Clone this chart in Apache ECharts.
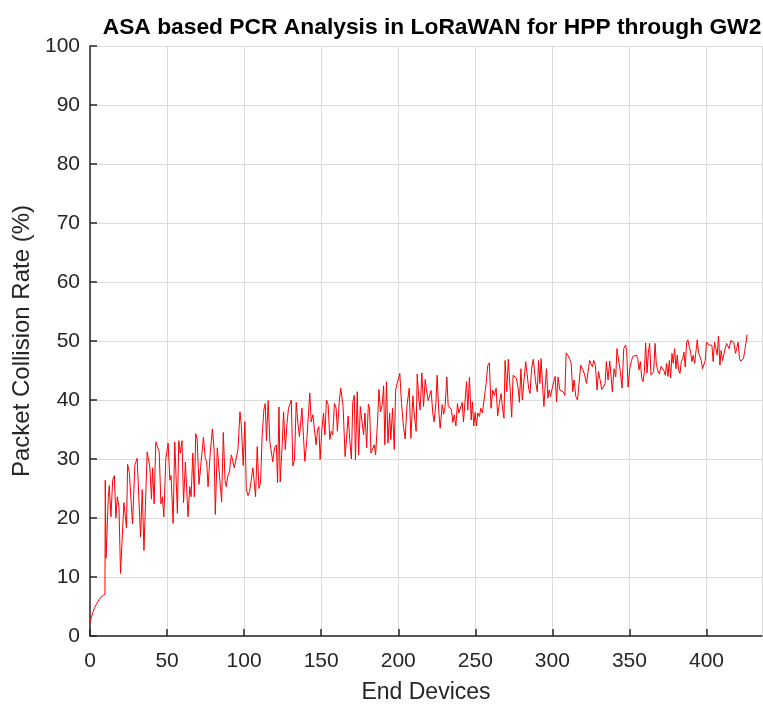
<!DOCTYPE html>
<html style="height: 100%">
<head>
    <meta charset="utf-8">
    <script src="https://cdn.jsdelivr.net/npm/echarts@6/dist/echarts.min.js"></script>
    <title>ASA based PCR Analysis</title>
</head>
<body style="height: 100%; margin: 0; background: #fff">
<div id="container" style="width: 763px; height: 706px"></div>

<script type="text/javascript">
    var devices = [0, 1, 2, 3, 4, 5, 6, 7, 8, 9.7, 9.9, 10.4, 11.9, 12.5, 13.6, 14.7, 15.8, 16.8, 17.7, 18.8,
        19.8, 22.0, 23.7, 24.4, 25.5, 26.5, 27.6, 29.1, 30.6, 32.8, 33.9, 35.0, 37.1, 38.8, 39.9, 40.6, 41.6, 42.7, 43.8, 44.9,
        46.0, 47.0, 47.9, 49.2, 50.7, 51.8, 52.6, 53.9, 55.0, 56.7, 57.6, 58.6, 59.7, 60.7, 61.9, 62.8, 63.6, 64.7, 65.6, 66.7,
        67.7, 68.6, 69.5, 70.7, 71.8, 73.6, 74.8, 75.7, 76.6, 77.9, 79.4, 80.5, 81.3, 82.6, 83.7, 84.6, 85.4, 86.5, 87.6, 88.4,
        89.5, 90.4, 91.7, 92.8, 93.6, 94.7, 96.0, 97.3, 98.2, 99.4, 100.5, 101.4, 102.5, 103.5, 104.6, 105.7, 106.6, 107.4, 108.5, 109.6,
        110.7, 111.7, 112.8, 113.7, 114.5, 115.6, 116.7, 117.8, 118.6, 119.7, 120.9, 121.7, 122.6, 123.4, 124.7, 125.6, 126.7, 127.8, 128.8, 130.6,
        131.6, 132.7, 133.8, 134.9, 135.9, 137.5, 138.5, 139.4, 140.7, 141.6, 142.6, 143.5, 144.6, 145.7, 146.7, 147.6, 148.5, 149.3, 150.4, 151.5,
        152.4, 153.4, 154.5, 155.6, 156.5, 157.5, 158.6, 159.7, 160.5, 161.8, 162.7, 164.2, 165.5, 166.4, 167.5, 168.5, 169.6, 170.5, 171.5, 172.2,
        173.4, 174.3, 175.4, 176.5, 177.5, 178.4, 179.5, 180.6, 181.4, 182.3, 183.4, 184.4, 185.3, 186.6, 187.5, 188.5, 189.6, 190.5, 191.3, 192.4,
        193.3, 194.4, 195.2, 196.3, 197.4, 198.3, 199.5, 201.0, 202.1, 203.4, 204.5, 205.6, 207.1, 208.2, 209.5, 210.3, 211.6, 212.3, 213.4, 214.2,
        215.3, 216.4, 217.5, 218.3, 219.4, 220.3, 221.3, 222.4, 223.3, 224.4, 225.2, 226.3, 227.2, 228.5, 229.5, 230.4, 231.5, 232.4, 233.5, 234.5,
        235.4, 236.3, 237.4, 238.4, 239.3, 240.4, 241.5, 242.3, 243.4, 244.3, 245.1, 246.2, 247.3, 248.1, 249.0, 249.9, 250.7, 251.6, 252.7, 253.5,
        254.6, 255.7, 257.0, 258.1, 259.1, 260.2, 261.3, 262.4, 263.5, 264.5, 265.6, 266.7, 267.8, 268.6, 269.3, 270.4, 271.4, 272.5, 273.6, 274.5,
        275.5, 276.6, 277.7, 278.6, 279.6, 280.5, 281.6, 282.7, 283.5, 284.6, 285.5, 286.5, 287.6, 289.1, 290.2, 291.0, 291.9, 292.7, 293.6, 294.5,
        295.3, 296.2, 297.1, 297.9, 298.8, 299.9, 300.9, 301.8, 302.7, 303.7, 304.8, 305.9, 307.0, 308.1, 308.9, 310.0, 311.3, 312.2, 313.2, 314.1,
        315.2, 316.3, 317.3, 318.4, 319.5, 320.8, 322.1, 323.2, 324.2, 325.1, 326.0, 326.8, 327.9, 329.0, 329.9, 330.9, 332.0, 333.1, 334.2, 335.0,
        336.1, 337.2, 338.1, 338.9, 340.0, 341.1, 341.9, 343.0, 344.1, 345.2, 346.3, 347.4, 348.2, 349.1, 350.2, 351.3, 352.3, 353.4, 354.5, 355.4,
        356.2, 357.1, 358.0, 358.8, 359.7, 360.5, 361.4, 362.3, 363.1, 364.0, 364.9, 365.7, 366.6, 367.4, 368.3, 369.4, 370.5, 371.3, 372.2, 373.3,
        374.1, 375.0, 375.9, 376.7, 377.6, 378.4, 379.3, 380.2, 381.0, 381.9, 382.8, 383.6, 384.5, 385.4, 386.2, 387.1, 387.9, 388.8, 389.7, 390.5,
        391.4, 392.3, 393.1, 394.0, 394.8, 395.7, 396.6, 397.4, 398.3, 399.2, 400.0, 400.9, 401.7, 402.6, 403.5, 404.3, 405.2, 406.1, 406.9, 407.8,
        408.7, 409.5, 410.4, 411.2, 412.1, 413.0, 413.8, 414.7, 415.8, 416.8, 417.7, 418.8, 419.6, 420.5, 421.4, 422.2, 423.1, 424.0, 424.8, 425.7,
        426.3];

    var pcr = [2.2, 3.3, 4.1, 4.8, 5.3, 5.8, 6.2, 6.5, 6.8, 7.1, 26.4, 13.2, 23.6, 25.5, 20.2, 26.4, 27.2, 20.0, 23.6, 21.9,
        10.6, 22.6, 18.3, 29.1, 27.7, 28.0, 19.0, 29.0, 30.1, 16.8, 24.8, 14.5, 31.2, 28.7, 23.2, 28.5, 22.4, 32.9, 33.1, 31.2,
        22.4, 23.6, 20.2, 30.1, 32.7, 26.4, 27.2, 19.1, 32.9, 20.8, 33.1, 31.0, 33.1, 22.6, 29.5, 29.5, 20.2, 25.3, 23.6, 31.0,
        23.6, 34.3, 33.4, 25.7, 28.7, 33.7, 30.1, 29.5, 25.3, 30.7, 35.1, 31.6, 20.6, 31.9, 28.2, 28.2, 22.7, 34.5, 26.4, 25.3,
        27.2, 27.8, 30.7, 31.0, 28.5, 28.7, 31.6, 38.0, 35.7, 28.9, 36.3, 24.8, 23.8, 24.5, 26.4, 28.5, 28.2, 23.6, 32.1, 25.0,
        26.1, 34.0, 38.3, 39.4, 33.1, 39.9, 32.9, 32.7, 29.5, 31.9, 32.4, 26.0, 38.8, 26.1, 32.4, 38.0, 31.6, 36.0, 38.6, 40.0,
        28.8, 29.9, 39.6, 36.0, 33.8, 38.6, 33.8, 29.6, 33.3, 33.5, 41.2, 36.3, 37.5, 37.8, 32.4, 34.9, 35.5, 29.9, 34.9, 37.8,
        34.1, 40.0, 39.2, 33.3, 34.7, 34.1, 39.4, 38.6, 34.7, 40.0, 42.0, 38.9, 30.4, 33.3, 37.3, 33.3, 30.0, 39.7, 40.8, 29.9,
        41.4, 30.7, 38.9, 36.3, 34.1, 37.8, 31.9, 39.3, 38.6, 31.0, 31.3, 32.4, 30.7, 36.6, 41.8, 38.0, 39.2, 42.4, 32.4, 43.1,
        32.7, 37.8, 33.3, 38.6, 31.6, 41.7, 43.1, 44.5, 39.4, 35.5, 33.4, 38.9, 42.0, 33.5, 40.7, 37.8, 34.7, 44.4, 40.0, 38.3,
        44.6, 38.9, 43.5, 41.7, 39.9, 40.0, 41.6, 37.8, 36.3, 39.4, 44.2, 38.0, 35.2, 39.2, 37.6, 38.9, 43.9, 39.0, 38.8, 38.4,
        36.2, 37.5, 35.6, 39.4, 37.8, 38.0, 39.6, 36.3, 40.0, 43.1, 38.3, 43.9, 36.6, 39.7, 35.6, 37.9, 35.6, 37.8, 37.2, 38.6,
        37.8, 37.5, 42.8, 45.9, 46.3, 38.6, 41.7, 40.8, 42.0, 37.3, 39.4, 41.1, 38.3, 36.9, 46.7, 41.4, 46.9, 42.2, 37.1, 44.2,
        44.5, 43.7, 42.2, 39.6, 45.3, 40.0, 43.4, 46.5, 46.5, 42.0, 41.1, 45.3, 46.9, 43.1, 41.4, 46.7, 42.8, 47.0, 42.5, 38.9,
        42.2, 45.3, 40.3, 41.7, 40.6, 42.0, 43.1, 44.0, 39.7, 43.9, 41.7, 41.6, 41.4, 40.8, 48.0, 47.6, 46.9, 46.2, 41.4, 43.4,
        40.6, 40.0, 42.8, 45.9, 45.3, 44.4, 42.8, 44.9, 46.7, 46.7, 45.6, 46.7, 45.9, 41.7, 44.8, 43.5, 41.8, 42.2, 42.8, 46.5,
        43.4, 46.6, 44.0, 41.4, 45.3, 43.9, 48.7, 48.4, 44.8, 42.0, 48.7, 49.3, 48.4, 42.2, 45.3, 46.7, 47.4, 47.2, 47.6, 47.0,
        45.1, 46.5, 43.7, 43.1, 44.8, 49.7, 44.6, 48.1, 49.6, 44.2, 44.2, 44.8, 49.6, 46.2, 45.1, 44.4, 45.7, 45.9, 45.1, 44.2,
        46.2, 44.0, 46.7, 43.7, 47.9, 46.2, 48.7, 45.3, 47.6, 45.1, 44.5, 46.5, 47.0, 48.1, 45.6, 49.8, 50.2, 49.0, 48.1, 46.5,
        47.6, 46.2, 48.1, 50.2, 48.1, 48.4, 46.7, 45.3, 45.2, 46.7, 49.8, 50.1, 49.3, 49.0, 49.3, 46.5, 49.8, 48.7, 47.6, 50.8,
        45.9, 48.4, 46.7, 47.6, 48.7, 49.6, 49.4, 48.7, 50.1, 50.2, 49.8, 47.9, 48.7, 49.8, 47.0, 46.6, 46.6, 47.0, 48.4, 49.8,
        51.1];

    var xTicks = [0, 50, 100, 150, 200, 250, 300, 350, 400];
    var yTicks = [0, 10, 20, 30, 40, 50, 60, 70, 80, 90, 100];

    var points = devices.map(function (d, i) {
        return [d, pcr[i]];
    });

    var dom = document.getElementById('container');
    var myChart = echarts.init(dom, null, {renderer: 'canvas'});

    var axisColor = '#262626';
    var font = 'Liberation Sans, Arial, Helvetica, sans-serif';

    var option = {
        backgroundColor: '#ffffff',
        animation: false,
        title: {
            text: 'ASA based PCR Analysis in LoRaWAN for HPP through GW2',
            left: 427,
            textAlign: 'center',
            top: 11,
            textStyle: {
                fontFamily: font,
                fontSize: 22.8,
                fontWeight: 'bold',
                color: '#000000'
            }
        },
        grid: {
            left: 90,
            right: 1,
            top: 46,
            bottom: 70,
            containLabel: false,
            outerBoundsMode: 'none'
        },
        xAxis: {
            type: 'value',
            min: 0,
            max: 436,
            interval: 50,
            name: 'End Devices',
            nameLocation: 'middle',
            nameGap: 45,
            nameTextStyle: {fontFamily: font, fontSize: 23, color: axisColor},
            axisLine: {lineStyle: {color: axisColor, width: 1.5}},
            axisTick: {inside: true, length: 7, lineStyle: {color: axisColor, width: 1.5}},
            axisLabel: {
                fontFamily: font, fontSize: 21, color: axisColor, margin: 15,
                showMaxLabel: false,
                formatter: function (v) { return xTicks.indexOf(v) >= 0 ? String(v) : ''; }
            },
            splitLine: {show: true, lineStyle: {color: '#dcdcdc', width: 1}}
        },
        yAxis: {
            type: 'value',
            min: 0,
            max: 100,
            interval: 10,
            name: 'Packet Collision Rate (%)',
            nameLocation: 'middle',
            nameGap: 52,
            nameTextStyle: {fontFamily: font, fontSize: 24, color: axisColor},
            axisLine: {show: true, lineStyle: {color: axisColor, width: 1.5}},
            axisTick: {show: true, inside: true, length: 7, lineStyle: {color: axisColor, width: 1.5}},
            axisLabel: {
                fontFamily: font, fontSize: 21, color: axisColor, margin: 10,
                formatter: function (v) { return yTicks.indexOf(v) >= 0 ? String(v) : ''; }
            },
            splitLine: {show: true, lineStyle: {color: '#dcdcdc', width: 1}}
        },
        series: [{
            name: 'PCR',
            type: 'line',
            data: points,
            showSymbol: false,
            symbol: 'none',
            lineStyle: {color: '#ff0000', width: 1},
            z: 3
        }]
    };

    myChart.setOption(option);
    window.addEventListener('resize', myChart.resize);
</script>
</body>
</html>
